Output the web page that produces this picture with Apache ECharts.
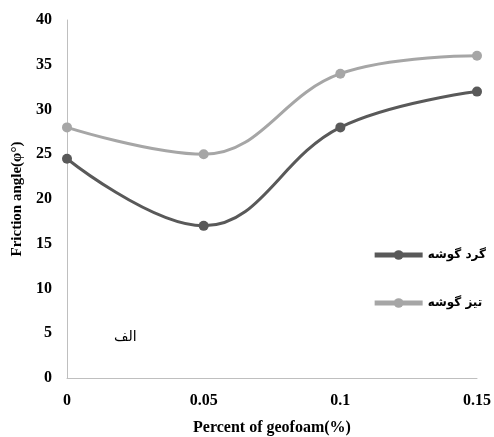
<!DOCTYPE html>
<html>
<head>
<meta charset="utf-8">
<script src="https://cdn.jsdelivr.net/npm/echarts@6/dist/echarts.min.js"></script>
<style>
  html, body { margin: 0; padding: 0; background: #fff; }
  #chart { width: 494px; height: 437px; }
</style>
</head>
<body>
<div id="chart"></div>
<script>
// 数据
var categories = ['0', '0.05', '0.1', '0.15'];
var roundVals = [24.5, 17, 28, 32];   // گرد گوشه
var sharpVals = [28, 25, 34, 36];     // تیز گوشه
var seriesNames = ['گرد گوشه', 'تیز گوشه'];

var serif = '"Liberation Serif", "DejaVu Serif", serif';

var myChart = echarts.init(document.getElementById('chart'));

var option = {
    animation: false,
    grid: {
        left: 67,
        right: 17,
        top: 20,
        bottom: 59,
        containLabel: false,
        outerBoundsMode: 'none'
    },
    legend: {
        orient: 'vertical',
        right: 3,
        top: 244,
        itemGap: 36,
        itemWidth: 48,
        itemHeight: 12,
        lineStyle: { width: 5 },
        textStyle: {
            fontFamily: '"DejaVu Sans", sans-serif',
            fontWeight: 'bold',
            fontSize: 12,
            color: '#000'
        },
        data: seriesNames
    },
    xAxis: {
        type: 'category',
        boundaryGap: false,
        data: categories,
        name: 'Percent of geofoam(%)',
        nameLocation: 'middle',
        nameGap: 42,
        nameTextStyle: {
            fontFamily: serif,
            fontWeight: 'bold',
            fontSize: 16,
            color: '#000'
        },
        axisLine: { lineStyle: { color: '#bfbfbf', width: 1 } },
        axisTick: { show: false },
        axisLabel: {
            margin: 15,
            fontFamily: serif,
            fontWeight: 'bold',
            fontSize: 16,
            color: '#000'
        },
        splitLine: { show: false }
    },
    yAxis: {
        type: 'value',
        min: 0,
        max: 40,
        interval: 5,
        name: 'Friction angle(φ°)',
        nameLocation: 'middle',
        nameGap: 42,
        nameTextStyle: {
            fontFamily: serif,
            fontWeight: 'bold',
            fontSize: 15,
            color: '#000'
        },
        axisLine: { show: true, lineStyle: { color: '#bfbfbf', width: 1 } },
        axisTick: { show: false },
        axisLabel: {
            margin: 15,
            fontFamily: serif,
            fontWeight: 'bold',
            fontSize: 16,
            color: '#000'
        },
        splitLine: { show: false }
    },
    graphic: [{
        type: 'text',
        left: 114,
        top: 330,
        style: {
            text: 'الف',
            font: '14px "DejaVu Sans", sans-serif',
            fill: '#000'
        }
    }],
    series: [{
        name: seriesNames[0],
        type: 'line',
        smooth: 0.4,
        data: roundVals,
        symbol: 'circle',
        symbolSize: 10,
        lineStyle: { color: '#595959', width: 3 },
        itemStyle: { color: '#595959' }
    }, {
        name: seriesNames[1],
        type: 'line',
        smooth: 0.4,
        data: sharpVals,
        symbol: 'circle',
        symbolSize: 10,
        lineStyle: { color: '#a6a6a6', width: 3 },
        itemStyle: { color: '#a6a6a6' }
    }]
};

myChart.setOption(option);
</script>
</body>
</html>
